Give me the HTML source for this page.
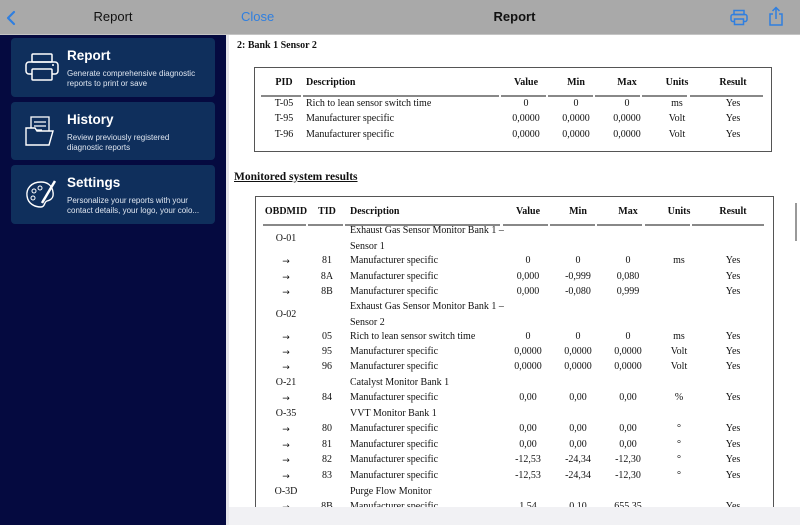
<!DOCTYPE html>
<html style="width:800px;height:525px;overflow:hidden"><head><meta charset="utf-8"><style>
*{margin:0;padding:0;box-sizing:border-box}
body{width:800px;height:525px;position:relative;overflow:hidden;background:#fff;font-family:"Liberation Serif",serif;color:#111}
.sb{position:absolute;left:0;top:0;width:226px;height:525px;background:#050a40}
.hdr{position:absolute;left:0;top:0;width:800px;height:35px;background:#a9a9a9;border-bottom:1px solid #c4c4c4}
.card{position:absolute;left:11px;width:204px;background:#0f2f5c;border-radius:4px;color:#fff;font-family:"Liberation Sans",sans-serif}
.card b{position:absolute;left:56px;top:10px;font-size:13.5px}
.card span{position:absolute;left:56px;top:31px;font-size:8px;line-height:9.5px;color:#dfe6f0;width:140px}
.card svg{position:absolute;left:14px;top:14px}
.t{position:absolute;font-size:10px;line-height:14px;white-space:nowrap}
.c{text-align:center}
.h{font-weight:bold}
.a{font-family:"DejaVu Sans",sans-serif;font-size:9px}
.ln{position:absolute;height:2px;background:#888}
.box{position:absolute;border:1px solid #555}
</style></head><body>
<div class="sb"></div>
<div class="hdr"></div>
<div style="position:absolute;left:226px;top:35px;width:3px;height:490px;background:#e6e6ea"></div>
<svg style="position:absolute;left:5px;top:10px" width="12" height="16"><path d="M9 2 L3 8 L9 14" fill="none" stroke="#2f7fe0" stroke-width="2.2" stroke-linecap="round" stroke-linejoin="round"/></svg>
<div style="position:absolute;left:0;width:226px;top:9px;text-align:center;font:13px 'Liberation Sans',sans-serif;color:#111">Report</div>
<div style="position:absolute;left:241px;top:9px;font:13px 'Liberation Sans',sans-serif;color:#2f7fe0">Close</div>
<div style="position:absolute;left:229px;width:571px;top:9px;text-align:center;font:bold 13px 'Liberation Sans',sans-serif;color:#111">Report</div>
<svg style="position:absolute;left:730px;top:9px" width="18" height="17"><rect x="4" y="1.5" width="10" height="4" fill="none" stroke="#2f7fe0" stroke-width="1.5"/><rect x="1" y="5.5" width="16" height="7" rx="2" fill="none" stroke="#2f7fe0" stroke-width="1.5"/><rect x="4.5" y="10" width="9" height="5.5" fill="#a9a9a9" stroke="#2f7fe0" stroke-width="1.5"/></svg>
<svg style="position:absolute;left:768px;top:6px" width="16" height="21"><path d="M5 8 H2 V19 H14 V8 H11" fill="none" stroke="#2f7fe0" stroke-width="1.5"/><path d="M8 13 V2 M4.5 5 L8 1.5 L11.5 5" fill="none" stroke="#2f7fe0" stroke-width="1.5"/></svg>

<div class="card" style="top:38px;height:59px"><svg width="34" height="30"><rect x="7" y="2" width="20" height="8" rx="1" fill="none" stroke="#fff" stroke-width="1.5"/><rect x="1" y="10" width="32" height="12" rx="3" fill="none" stroke="#fff" stroke-width="1.5"/><rect x="7" y="17" width="20" height="11" rx="1" fill="#0f2f5c" stroke="#fff" stroke-width="1.5"/><circle cx="28" cy="13" r="1" fill="#fff"/></svg><b>Report</b><span>Generate comprehensive diagnostic reports to print or save</span></div>
<div class="card" style="top:102px;height:58px"><svg width="34" height="30"><rect x="6" y="1" width="18" height="20" fill="none" stroke="#fff" stroke-width="1.3"/><path d="M9 6h12M9 10h12M9 14h8" stroke="#fff" stroke-width="1.2"/><path d="M1 12 H10 L12 15 H28 L24 29 H1 Z" fill="#0f2f5c" stroke="#fff" stroke-width="1.4"/></svg><b>History</b><span style="width:122px">Review previously registered diagnostic reports</span></div>
<div class="card" style="top:165px;height:59px"><svg width="34" height="32"><path d="M16 3 C6 3 1 10 2 17 C3 25 10 28 16 28 C20 28 19 23 22 22 C26 21 29 19 28 13 C27 6 22 3 16 3Z" fill="none" stroke="#fff" stroke-width="1.4"/><circle cx="9" cy="12" r="2" fill="none" stroke="#fff"/><circle cx="15" cy="9" r="2" fill="none" stroke="#fff"/><circle cx="8" cy="19" r="2" fill="none" stroke="#fff"/><path d="M30 2 L17 24" stroke="#fff" stroke-width="2.5"/></svg><b>Settings</b><span>Personalize your reports with your contact details, your logo, your colo...</span></div>

<div class="t h" style="left:237px;top:39px">2: Bank 1 Sensor 2</div>
<div class="box" style="left:254px;top:67px;width:518px;height:85px"></div>
<div class="t h c" style="left:264px;width:40px;top:76px">PID</div>
<div class="t h" style="left:306px;top:76px">Description</div>
<div class="t h c" style="left:501px;width:50px;top:76px">Value</div>
<div class="t h c" style="left:551px;width:50px;top:76px">Min</div>
<div class="t h c" style="left:602px;width:50px;top:76px">Max</div>
<div class="t h c" style="left:652px;width:50px;top:76px">Units</div>
<div class="t h c" style="left:706px;width:54px;top:76px">Result</div>
<div class="ln" style="left:261px;width:40px;top:95px"></div>
<div class="ln" style="left:303px;width:196px;top:95px"></div>
<div class="ln" style="left:501px;width:45px;top:95px"></div>
<div class="ln" style="left:548px;width:45px;top:95px"></div>
<div class="ln" style="left:595px;width:45px;top:95px"></div>
<div class="ln" style="left:642px;width:45px;top:95px"></div>
<div class="ln" style="left:690px;width:73px;top:95px"></div>

<div id="t1"></div>

<div class="t h" style="left:234px;top:170px;font-size:11.5px;text-decoration:underline">Monitored system results</div>
<div class="box" style="left:255px;top:196px;width:519px;height:340px"></div>
<div class="t h c" style="left:262px;width:48px;top:205px">OBDMID</div>
<div class="t h c" style="left:312px;width:30px;top:205px">TID</div>
<div class="t h" style="left:350px;top:205px">Description</div>
<div class="t h c" style="left:503px;width:50px;top:205px">Value</div>
<div class="t h c" style="left:553px;width:50px;top:205px">Min</div>
<div class="t h c" style="left:603px;width:50px;top:205px">Max</div>
<div class="t h c" style="left:654px;width:50px;top:205px">Units</div>
<div class="t h c" style="left:706px;width:54px;top:205px">Result</div>
<div class="ln" style="left:263px;width:43px;top:224px"></div>
<div class="ln" style="left:308px;width:35px;top:224px"></div>
<div class="ln" style="left:345px;width:155px;top:224px"></div>
<div class="ln" style="left:503px;width:45px;top:224px"></div>
<div class="ln" style="left:550px;width:45px;top:224px"></div>
<div class="ln" style="left:597px;width:45px;top:224px"></div>
<div class="ln" style="left:645px;width:45px;top:224px"></div>
<div class="ln" style="left:692px;width:72px;top:224px"></div>
<div id="t2"></div>
<script>
function cell(l,w,y,txt,cls){return '<div class="t '+(cls||'c')+'" style="left:'+l+'px;'+(w?'width:'+w+'px;':'')+'top:'+(y-7)+'px">'+txt+'</div>';}
var h='';
[[104,'T-05','Rich to lean sensor switch time','0','0','0','ms'],[119,'T-95','Manufacturer specific','0,0000','0,0000','0,0000','Volt'],[135,'T-96','Manufacturer specific','0,0000','0,0000','0,0000','Volt']].forEach(function(r){
h+=cell(264,40,r[0],r[1])+cell(306,0,r[0],r[2],' ')+cell(501,50,r[0],r[3])+cell(551,50,r[0],r[4])+cell(602,50,r[0],r[5])+cell(652,50,r[0],r[6])+cell(706,54,r[0],'Yes');});
document.getElementById('t1').innerHTML=h;
h='';
var rows=[
[239,'O-01','','Exhaust Gas Sensor Monitor Bank 1 –<br>Sensor 1'],
[261,'→','81','Manufacturer specific','0','0','0','ms','Yes'],
[277,'→','8A','Manufacturer specific','0,000','-0,999','0,080','','Yes'],
[292,'→','8B','Manufacturer specific','0,000','-0,080','0,999','','Yes'],
[315,'O-02','','Exhaust Gas Sensor Monitor Bank 1 –<br>Sensor 2'],
[337,'→','05','Rich to lean sensor switch time','0','0','0','ms','Yes'],
[352,'→','95','Manufacturer specific','0,0000','0,0000','0,0000','Volt','Yes'],
[367,'→','96','Manufacturer specific','0,0000','0,0000','0,0000','Volt','Yes'],
[383,'O-21','','Catalyst Monitor Bank 1'],
[398,'→','84','Manufacturer specific','0,00','0,00','0,00','%','Yes'],
[414,'O-35','','VVT Monitor Bank 1'],
[429,'→','80','Manufacturer specific','0,00','0,00','0,00','°','Yes'],
[445,'→','81','Manufacturer specific','0,00','0,00','0,00','°','Yes'],
[460,'→','82','Manufacturer specific','-12,53','-24,34','-12,30','°','Yes'],
[476,'→','83','Manufacturer specific','-12,53','-24,34','-12,30','°','Yes'],
[492,'O-3D','','Purge Flow Monitor'],
[507,'→','8B','Manufacturer specific','1,54','0,10','655,35','','Yes']];
rows.forEach(function(r){var y=r[0];
var d=r[3].indexOf('<br>')>0;
h+=(r[1]=='→'?cell(262,48,y+1,r[1],'c a'):cell(262,48,y,r[1]))+cell(312,30,y,r[2]);
h+='<div class="t" style="left:350px;top:'+(d?y-16:y-7)+'px;line-height:'+(d?'16px':'14px')+'">'+r[3]+'</div>';
if(r.length>4)h+=cell(503,50,y,r[4])+cell(553,50,y,r[5])+cell(603,50,y,r[6])+cell(654,50,y,r[7])+cell(706,54,y,r[8]);});
document.getElementById('t2').innerHTML=h;
</script>
<div style="position:absolute;left:229px;top:507px;width:571px;height:18px;background:#f1f1f4"></div>
<div style="position:absolute;left:795px;top:203px;width:2px;height:38px;background:#999"></div>
</body></html>
